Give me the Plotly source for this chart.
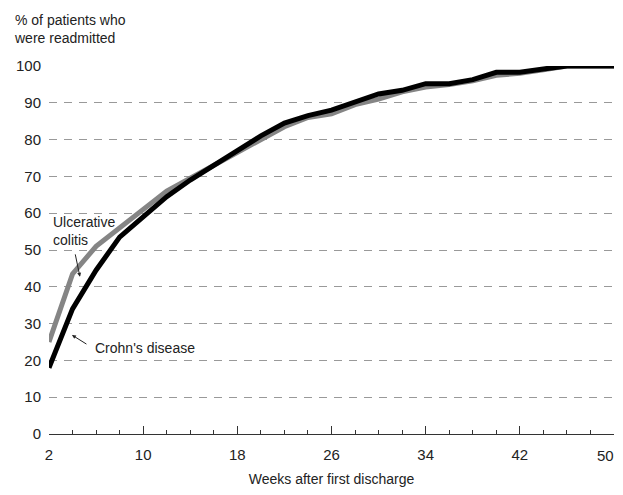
import plotly.graph_objects as go

weeks = [2, 4, 6, 8, 10, 12, 14, 16, 18, 20, 22, 24, 26, 28, 30, 32, 34, 36, 38, 40, 42, 44, 46, 48, 50]
ulcerative_colitis = [25, 43.5, 51, 56, 61, 66, 69.5, 73, 76.5, 80, 83.5, 86, 87, 89.5, 91, 93, 94.3, 95, 96, 97.5, 98, 99, 100, 100, 100]
crohns_disease = [18, 34, 44.5, 53.5, 59, 64.5, 69, 73, 77, 81, 84.5, 86.5, 88, 90.2, 92.4, 93.4, 95.2, 95.2, 96.3, 98.3, 98.3, 99.2, 100, 100, 100]

x_ticks = [2, 10, 18, 26, 34, 42, 50]
x_tick_labels = ["2", "10", "18", "26", "34", "42", "50"]
y_ticks = [0, 10, 20, 30, 40, 50, 60, 70, 80, 90, 100]

FONT = "Liberation Sans Narrow, Arial Narrow, Liberation Sans, Arial, sans-serif"

fig = go.Figure()
fig.add_trace(go.Scatter(x=weeks, y=ulcerative_colitis, mode="lines",
                         line=dict(color="#858585", width=5), cliponaxis=False,
                         name="Ulcerative colitis"))
fig.add_trace(go.Scatter(x=weeks, y=crohns_disease, mode="lines",
                         line=dict(color="#000000", width=5), cliponaxis=False,
                         name="Crohn's disease"))

# the last tick label would run past the visible page edge, so it is drawn
# as a right-anchored annotation at the same tick instead
shown_labels = x_tick_labels[:-1] + [""]

fig.update_layout(
    width=615, height=479,
    margin=dict(l=41, r=9, t=58, b=53),
    plot_bgcolor="white", paper_bgcolor="white",
    showlegend=False,
    font=dict(family=FONT, size=15, color="#222222"),
    xaxis=dict(range=[2, 50], tickvals=x_ticks, ticktext=shown_labels,
               showgrid=False, zeroline=False,
               automargin=False, ticklabeloverflow="allow",
               showline=True, linecolor="#333333", linewidth=1,
               ticks="inside", ticklen=8, tickcolor="#333333", tickwidth=1,
               ticklabelstandoff=7,
               minor=dict(dtick=2, tick0=2, ticks="inside", ticklen=4, tickcolor="#333333", showgrid=False),
               title=dict(text="Weeks after first discharge", standoff=13, font=dict(size=14)),
               tickfont=dict(size=15)),
    yaxis=dict(range=[0, 100], tickvals=y_ticks, showgrid=True, gridcolor="#999999",
               automargin=False,
               griddash="8px,7px", gridwidth=1, zeroline=False, showline=False,
               ticks="", ticklabelstandoff=7, tickfont=dict(size=15)),
    annotations=[
        dict(text=x_tick_labels[-1], xref="x", yref="paper", x=x_ticks[-1], y=0,
             xanchor="right", yanchor="middle", xshift=2, yshift=-21,
             showarrow=False, font=dict(size=15)),
        dict(text="% of patients who<br>were readmitted", xref="paper", yref="paper",
             x=-37/565, y=(434-10)/368, xanchor="left", yanchor="top", align="left",
             showarrow=False, font=dict(size=14)),
        dict(text="Ulcerative<br>colitis", xref="x", yref="y", x=2.2, y=60.2,
             xanchor="left", yanchor="top", align="left", showarrow=False,
             font=dict(size=14)),
        dict(text="", xref="x", yref="y", x=4.63, y=42.7, ax=-5, ay=-24,
             showarrow=True, arrowhead=2, arrowsize=0.8, arrowwidth=1, arrowcolor="#222222"),
        dict(text="Crohn's disease", xref="x", yref="y", x=5.7, y=23.5,
             xanchor="left", yanchor="middle", align="left", showarrow=False,
             font=dict(size=14)),
        dict(text="", xref="x", yref="y", x=3.95, y=26.9, ax=16, ay=10,
             showarrow=True, arrowhead=2, arrowsize=0.8, arrowwidth=1, arrowcolor="#222222"),
    ],
)

fig.write_html("out.html")
